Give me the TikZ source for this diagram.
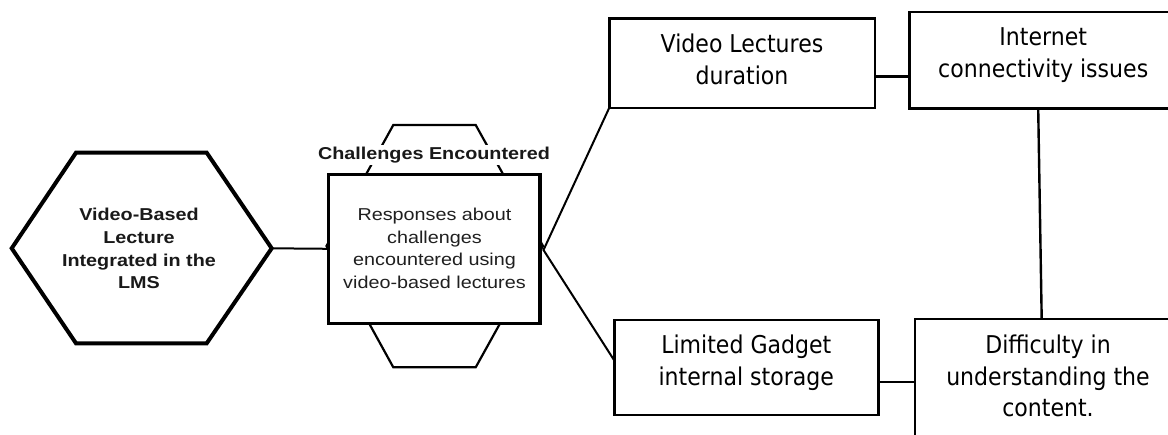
\documentclass[tikz,border=0pt]{standalone}
\usepackage{fontspec}
% wide Arial-like face for the left part, Tahoma-like face for the right boxes
\newfontfamily\arialwide[FakeStretch=1.15]{Liberation Sans}
\newfontfamily\tahomalike[FakeStretch=0.9]{DejaVu Sans}
\begin{document}
\begin{tikzpicture}[x=1pt,y=-1pt,
  every node/.style={inner sep=0pt, outer sep=0pt},
  lefttext/.style={align=center, text=black!88, font=\arialwide\fontsize{17.2}{22.6}\selectfont},
  leftbold/.style={align=center, text=black!90, font=\arialwide\bfseries\fontsize{17.2}{22.7}\selectfont},
  righttext/.style={align=center, font=\tahomalike\fontsize{24.5}{31.8}\selectfont},
  hexline/.style={line width=4pt, line join=miter},
  backhex/.style={line width=2.2pt, line join=miter},
  mainbox/.style={draw, line width=3.4pt, fill=white},
  rbox/.style={draw, line width=2.4pt},
  link/.style={line width=2pt},
  thinlink/.style={line width=2.4pt}
]
\useasboundingbox (0,0) rectangle (1168,434);
\clip (0,0) rectangle (1168,434);
\fill[white] (0,0) rectangle (1168,434);

% left hexagon
\coordinate (hexL) at (11.7,248.3);
\coordinate (hexR) at (271.7,248.3);
\draw[hexline] (hexL) -- (76,152.7) -- (206.7,152.7) -- (hexR)
  -- (206.7,343.3) -- (76,343.3) -- cycle;
\node[leftbold] (hext) at (139,248.5) {Video-Based\\Lecture\\Integrated in the\\LMS};

% hexagon behind the central box
\coordinate (bhL) at (326.5,246);
\coordinate (bhR) at (543,246);
\draw[backhex] (bhL) -- (393.3,125) -- (475.7,125) -- (bhR)
  -- (475.7,367.3) -- (393.3,367.3) -- cycle;
\node[leftbold, fill=white, inner sep=2pt, anchor=base] (ttl) at (434,159.3) {Challenges Encountered};

% central box
\node[mainbox, minimum width=211.7pt, minimum height=149pt] (resp) at (434.2,248.8) {};
\node[lefttext] (respt) at (434.5,248.5) {Responses about\\challenges\\encountered using\\video-based lectures};

% right-hand boxes
\node[rbox, minimum width=265.4pt, minimum height=89.4pt] (vl) at (742,63) {};
\node[righttext] (vlt) at (742,59.5) {Video Lectures\\duration};

\node[rbox, minimum width=267.7pt, minimum height=96.6pt] (ic) at (1043.2,60) {};
\node[righttext] (ict) at (1043.2,55) {Internet\\connectivity issues};

\node[rbox, minimum width=264pt, minimum height=95pt] (lg) at (746.3,367.5) {};
\node[righttext] (lgt) at (746.3,363) {Limited Gadget\\internal storage};

\node[rbox, minimum width=266pt, minimum height=131pt] (df) at (1048,384.6) {};
\node[righttext] (dft) at (1048,376) {Difficulty in\\understanding the\\content.};

% connectors
\draw[link] (hexR) -- (resp.west);
\coordinate (fork) at (543.5,250);
\draw[link] (vl.south west) -- (fork) -- ([yshift=7pt]lg.west);
\draw[thinlink] ([yshift=-13.5pt]vl.east) -- ([yshift=-16.5pt]ic.west);
\draw[thinlink] ([yshift=-14.5pt]lg.east) -- ([yshift=2.6pt]df.west);
\draw[thinlink] ([xshift=-5pt]ic.south) -- ([xshift=-6.3pt]df.north);
\end{tikzpicture}
\end{document}
